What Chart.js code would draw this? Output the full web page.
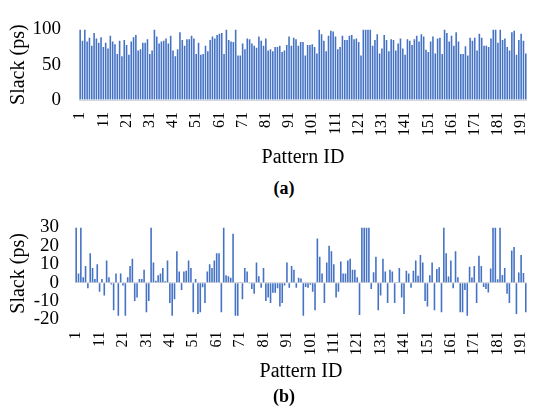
<!DOCTYPE html>
<html>
<head>
<meta charset="utf-8">
<script src="https://cdn.jsdelivr.net/npm/chart.js@4/dist/chart.umd.min.js"></script>
<style>
  html, body { margin: 0; padding: 0; background: #fff; }
  body { width: 557px; height: 411px; position: relative; overflow: hidden; }
  canvas { position: absolute; left: 0; }
  .cap { position: absolute; left: 0; width: 568px; text-align: center; font-family: 'Liberation Serif', 'Times New Roman', serif; font-weight: bold; font-size: 18px; line-height: 20px; color: #000; }
</style>
</head>
<body>
<canvas id="ca" width="557" height="170" style="top:0px"></canvas>
<canvas id="cb" width="557" height="190" style="top:200px"></canvas>
<div class="cap" style="top:178px">(a)</div>
<div class="cap" style="top:386px">(b)</div>
<script>
// Pattern IDs 1..193
const patternIds = [];
for (let i = 1; i <= 193; i++) patternIds.push(String(i));

// (a) Slack (ps)
const slackA = [
  100,84,100,83,88,77,95,87,81,89, 75,81,73,91,83,79,65,84,62,85,
  78,64,83,89,92,70,72,81,81,86, 65,70,100,90,80,83,84,87,80,91,
  70,62,72,96,85,77,86,86,91,87, 65,81,64,65,77,69,85,90,87,92,
  94,95,65,100,85,83,82,100,63,63, 80,72,87,86,80,77,74,90,84,77,
  87,70,72,69,75,75,77,68,70,78, 90,77,88,86,77,82,82,63,78,78,
  79,75,66,100,93,84,69,91,98,97, 90,72,75,91,85,85,91,92,86,87,
  82,63,100,100,100,100,77,85,93,66, 73,92,85,69,86,85,70,80,87,73,
  64,86,84,78,86,91,83,93,90,71, 68,83,90,66,87,88,65,100,95,83,
  91,77,96,83,65,65,76,63,88,84, 88,70,94,88,77,77,75,87,100,100,
  81,100,85,87,75,70,96,98,64,85, 94,84,66
];

// (b) Slack (ps)
const slackB = [
  30,5,30,3,9,-3,16,8,2,10, -5,2,-7,12,3,-1,-15,5,-18,5,
  -1.5,-18,3,9,13,-10,-8,2,2,7, -16,-10,30,11,1,4,5,8,0.7,12,
  -11,-18,-9,17,6,-4,6,6.5,12,8, -16,2,-17,-16,-2.5,-11,6,10,8,12,
  16,16,-16,30,4,3.5,2.7,26.5,-18,-18, 0.3,-9,8,6,-0.5,-3.5,-6,11,3.5,-2.7,
  8,-10,-8,-11,-5.5,-5.5,-3,-13,-11,-1.5, 11,-2.7,9,7,-2.7,2.7,2.3,-18,-2.3,-2.7,
  -1.2,-5,-15,24,14,5,-11,11,20,17, 10,-8,-5,11.5,5,5,12,13,7,7,
  3,-17.5,30,30,30,30,-3.5,5.7,14,-15, -7,13,6,-11,7,6,-11,0.3,8,-8,
  -17,6.4,5,-2.7,6.4,12,3.7,15,11,-10, -13,4,11,-15,7.4,8.4,-16,30,16,3.4,
  12,-3,17,3,-16,-16,-4,-18,8.7,2.8, 9,-11,14.6,9,-2.3,-3.5,-5.4,7.7,30,30,
  1.8,30,4.2,8,-6,-11,17.4,19.4,-17,5.5, 15,5.2,-16
];

const yTicksA = { min: 0, max: 100, step: 50 };
const yTicksB = { min: -20, max: 30, step: 10 };

const FONT = "'Liberation Serif', 'Times New Roman', serif";
const BAR = '#4472C4';

function build(canvasId, data, yr, geo) {
  return new Chart(document.getElementById(canvasId), {
    type: 'bar',
    data: {
      labels: patternIds,
      datasets: [{
        data: data,
        backgroundColor: BAR,
        borderWidth: 0,
        categoryPercentage: 0.68,
        barPercentage: 1
      }]
    },
    options: {
      responsive: false,
      animation: false,
      devicePixelRatio: 1,
      layout: { padding: { top: geo.padTop, right: geo.padRight, left: 0, bottom: 0 } },
      plugins: { legend: { display: false }, tooltip: { enabled: false }, title: { display: false } },
      scales: {
        x: {
          type: 'category',
          grid: { display: false, drawTicks: false },
          border: { display: false },
          ticks: {
            autoSkip: false, minRotation: 90, maxRotation: 90,
            padding: geo.xTickPad, color: '#000',
            font: { family: FONT, size: 16 },
            callback: function (v, i) { return (i % 10 === 0) ? patternIds[i] : ''; }
          },
          title: { display: true, text: 'Pattern ID', color: '#000', font: { family: FONT, size: 20 }, padding: { top: 0, bottom: geo.xTitlePad } },
          afterFit: function (s) { s.height = geo.xHeight; }
        },
        y: {
          min: yr.min, max: yr.max,
          grid: { drawTicks: false, lineWidth: 1, color: function (c) { return c.tick && c.tick.value === 0 ? '#d9d9d9' : 'rgba(0,0,0,0)'; } },
          border: { display: false },
          ticks: { stepSize: yr.step, autoSkip: false, padding: geo.yTickPad, color: '#000', font: { family: FONT, size: 19 } },
          title: { display: true, text: 'Slack (ps)', color: '#000', font: { family: FONT, size: 20 }, padding: { top: 7, bottom: 0 } },
          afterFit: function (s) { s.width = geo.yWidth; }
        }
      }
    }
  });
}

build('ca', slackA, yTicksA, { padTop: 12, padRight: 1, xTickPad: 12, xTitlePad: 0, xHeight: 70, yTickPad: 18, yWidth: 79 });
build('cb', slackB, yTicksB, { padTop: 20, padRight: 2, xTickPad: 12, xTitlePad: 6, xHeight: 70.5, yTickPad: 16, yWidth: 75 });
</script>
</body>
</html>
